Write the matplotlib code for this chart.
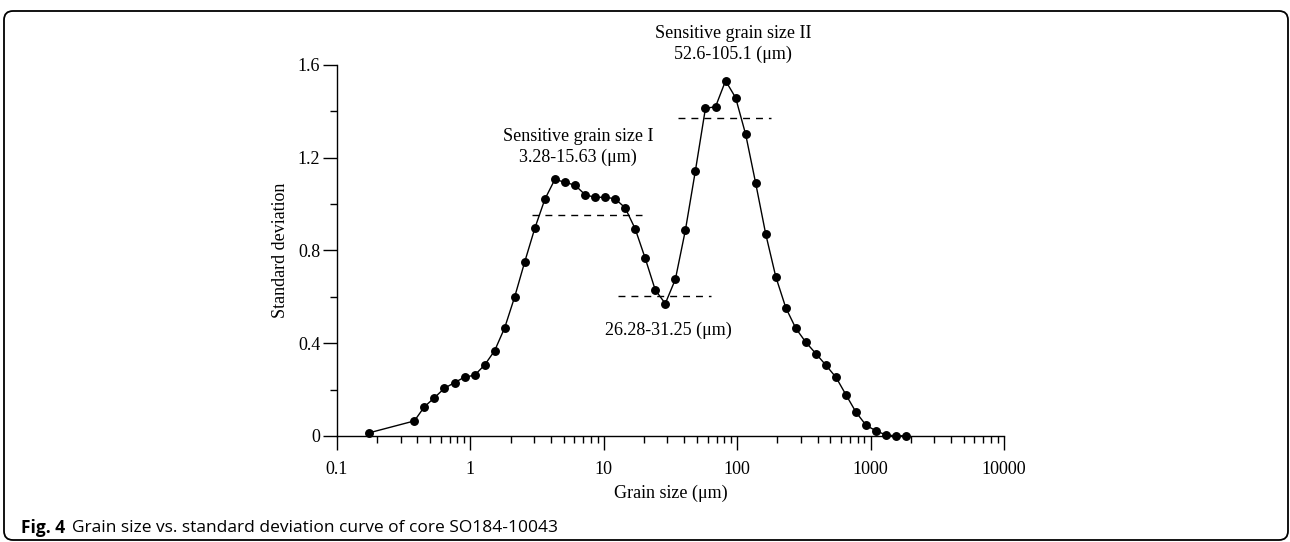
import matplotlib
matplotlib.use("Agg")
import matplotlib.pyplot as plt
from matplotlib.patches import FancyBboxPatch
from matplotlib.ticker import FixedLocator, LogLocator, NullFormatter
import numpy as np

# grain size classes (um) and standard deviation
grain_size = [0.175, 0.38, 0.452, 0.537, 0.639, 0.76, 0.904, 1.075, 1.278, 1.52,
              1.808, 2.15, 2.557, 3.04, 3.616, 4.30, 5.114, 6.08, 7.232, 8.60,
              10.23, 12.16, 14.46, 17.2, 20.45, 24.3, 28.9, 34.4, 40.9, 48.6,
              57.8, 68.8, 81.8, 97.3, 115.7, 137.6, 163.6, 194.6, 231.4, 275.2,
              327.3, 389.2, 462.9, 550.5, 654.6, 778.5, 925.8, 1101, 1309, 1557, 1852]
std_dev = [0.014, 0.065, 0.126, 0.165, 0.206, 0.230, 0.254, 0.262, 0.306, 0.368,
           0.467, 0.601, 0.752, 0.896, 1.021, 1.107, 1.094, 1.082, 1.041, 1.029,
           1.030, 1.023, 0.984, 0.893, 0.766, 0.630, 0.571, 0.676, 0.888, 1.144,
           1.413, 1.420, 1.532, 1.459, 1.301, 1.090, 0.871, 0.687, 0.553, 0.464,
           0.404, 0.355, 0.305, 0.253, 0.177, 0.102, 0.046, 0.022, 0.004, 0.001, 0.001]

# dashed reference levels: (x start, x end, level)
dash_lines = [(2.88, 19.5, 0.953), (12.85, 63.3, 0.604), (36.2, 178.4, 1.370)]

# annotations: (x, y, text)
notes = [(6.41, 1.246, "Sensitive grain size I\n3.28-15.63 (\u03bcm)"),
         (30.3, 0.457, "26.28-31.25 (\u03bcm)"),
         (93.0, 1.690, "Sensitive grain size II\n52.6-105.1 (\u03bcm)")]

y_ticks = [0, 0.4, 0.8, 1.2, 1.6]
y_tick_labels = ["0", "0.4", "0.8", "1.2", "1.6"]
x_ticks = [0.1, 1, 10, 100, 1000, 10000]
x_tick_labels = ["0.1", "1", "10", "100", "1000", "10000"]

W, H = 1290, 542
fig = plt.figure(figsize=(W / 100, H / 100), dpi=100)
serif = "Liberation Serif"

# axes placed in pixel terms of the reference
left, right, top, bottom = 337, 1004, 65, 436
ax = fig.add_axes([left / W, 1 - bottom / H, (right - left) / W, (bottom - top) / H])
ax.set_xscale("log")
ax.set_xlim(0.1, 10000)
ax.set_ylim(0, 1.6)

ax.plot(grain_size, std_dev, color="black", lw=1.0, marker="o", ms=5.4,
        markerfacecolor="black", markeredgecolor="black", clip_on=False, zorder=3)

for x0, x1, lev in dash_lines:
    ax.plot([x0, x1], [lev, lev], color="black", lw=1.0, dashes=[5, 4.3], zorder=2)

for x, y, t in notes:
    ax.text(x, y, t, ha="center", va="center", fontsize=13, family=serif,
            linespacing=1.25, clip_on=False)

for s in ["top", "right"]:
    ax.spines[s].set_visible(False)
for s in ["left", "bottom"]:
    ax.spines[s].set_linewidth(1.0)

ax.yaxis.set_major_locator(FixedLocator(y_ticks))
ax.yaxis.set_minor_locator(FixedLocator([0.2, 0.6, 1.0, 1.4]))
ax.set_yticklabels(y_tick_labels)
ax.xaxis.set_major_locator(FixedLocator(x_ticks))
ax.xaxis.set_minor_locator(LogLocator(base=10, subs=np.arange(2, 10), numticks=20))
ax.xaxis.set_minor_formatter(NullFormatter())
ax.set_xticklabels(x_tick_labels)

ax.tick_params(axis="both", which="major", direction="out", length=10, width=1.0,
               labelsize=13, pad=2)
ax.tick_params(axis="both", which="minor", direction="out", length=5, width=1.0)
ax.tick_params(axis="x", which="major", pad=8)
for lab in ax.get_xticklabels() + ax.get_yticklabels():
    lab.set_family(serif)

ax.set_xlabel("Grain size (\u03bcm)", fontsize=13, family=serif, labelpad=5)
ax.set_ylabel("Standard deviation", fontsize=13, family=serif, labelpad=6)

# rounded frame around the figure
frame = FancyBboxPatch((4 / 100, 2 / 100), 1284 / 100, 529 / 100,
                       boxstyle="round,pad=0,rounding_size=0.09",
                       transform=fig.dpi_scale_trans, fill=False,
                       edgecolor="black", lw=1.3)
fig.patches.append(frame)

# caption
fig.text(21 / W, 1 - 528 / H, "Fig. 4", fontsize=12.5, family="Open Sans",
         fontweight="bold", va="center", ha="left")
fig.text(72 / W, 1 - 528 / H, "Grain size vs. standard deviation curve of core SO184-10043",
         fontsize=12.5, family="Open Sans", va="center", ha="left")

fig.savefig("out.png", dpi=100)
